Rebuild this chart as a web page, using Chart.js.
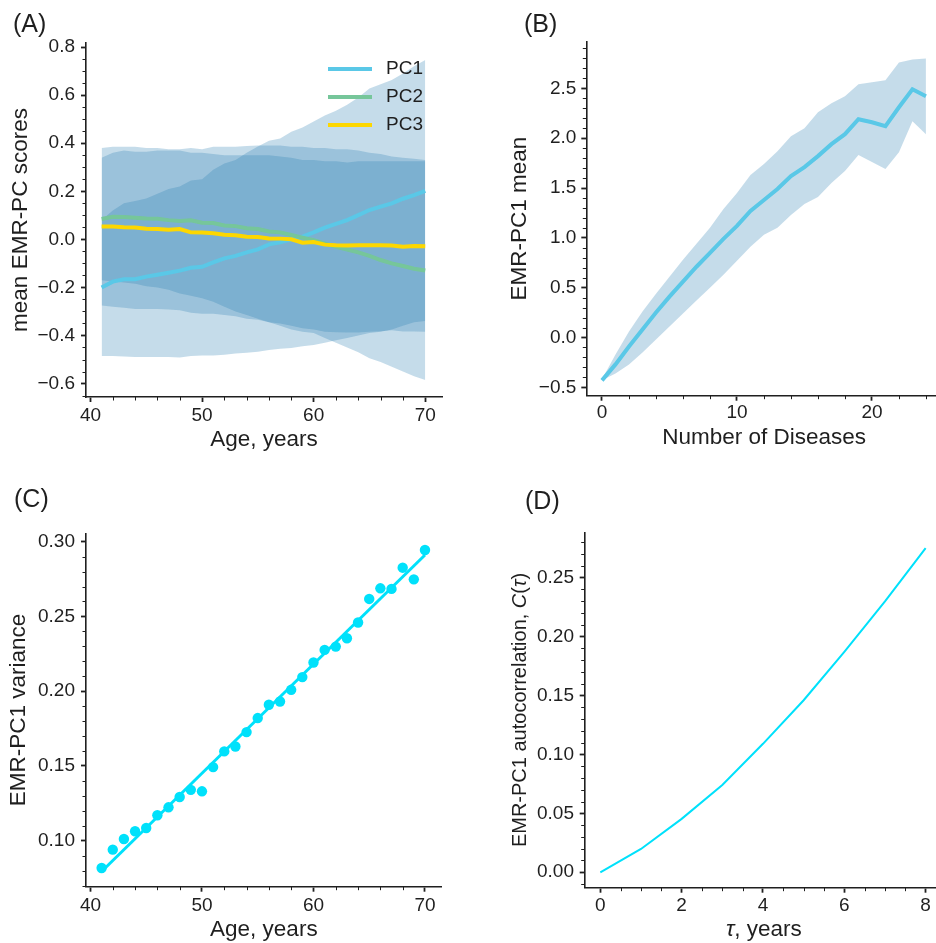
<!DOCTYPE html>
<html>
<head>
<meta charset="utf-8">
<script src="https://cdn.jsdelivr.net/npm/chart.js@4.4.1/dist/chart.umd.min.js"></script>
<style>
  html, body { margin: 0; padding: 0; background: #fff; width: 936px; height: 943px; overflow: hidden; }
  canvas { position: absolute; }
</style>
</head>
<body>
<canvas id="chartA" width="468" height="470" style="left:0;top:0;width:468px;height:470px"></canvas>
<canvas id="chartB" width="480" height="470" style="left:468px;top:0;width:480px;height:470px"></canvas>
<canvas id="chartC" width="468" height="473" style="left:0;top:470px;width:468px;height:473px"></canvas>
<canvas id="chartD" width="480" height="473" style="left:468px;top:470px;width:480px;height:473px"></canvas>
<script>
// ── Data ─────────────────────────────────────────────────────────────────────
// (A) mean EMR-PC scores by age, with bands
const ages = [41, 42, 43, 44, 45, 46, 47, 48, 49, 50, 51, 52, 53, 54, 55,
              56, 57, 58, 59, 60, 61, 62, 63, 64, 65, 66, 67, 68, 69, 70];
const pc1Mean = [-0.200, -0.176, -0.166, -0.166, -0.155, -0.147, -0.139, -0.130, -0.118, -0.114,
                 -0.096, -0.079, -0.069, -0.054, -0.042, -0.021, -0.012, 0.000, 0.011, 0.029,
                 0.049, 0.064, 0.080, 0.101, 0.122, 0.136, 0.150, 0.169, 0.184, 0.202];
const pc2Mean = [0.085, 0.094, 0.093, 0.090, 0.087, 0.086, 0.080, 0.076, 0.079, 0.069,
                 0.068, 0.058, 0.055, 0.046, 0.043, 0.033, 0.029, 0.018, 0.007, -0.003,
                 -0.017, -0.031, -0.042, -0.054, -0.069, -0.086, -0.100, -0.111, -0.122, -0.130];
const pc3Mean = [0.053, 0.053, 0.050, 0.049, 0.044, 0.043, 0.040, 0.043, 0.029, 0.028,
                 0.025, 0.019, 0.017, 0.011, 0.010, 0.004, 0.003, 0.000, -0.014, -0.011,
                 -0.022, -0.025, -0.026, -0.025, -0.025, -0.025, -0.026, -0.031, -0.028, -0.029];
const pc1Upper = [0.08, 0.12, 0.15, 0.16, 0.17, 0.19, 0.21, 0.22, 0.245, 0.25,
                  0.29, 0.316, 0.33, 0.36, 0.386, 0.41, 0.42, 0.448, 0.465, 0.49,
                  0.515, 0.535, 0.56, 0.59, 0.628, 0.645, 0.663, 0.69, 0.72, 0.746];
const pc1Lower = [-0.485, -0.485, -0.487, -0.49, -0.49, -0.49, -0.49, -0.492, -0.485, -0.483,
                  -0.483, -0.48, -0.475, -0.472, -0.468, -0.46, -0.455, -0.452, -0.445, -0.44,
                  -0.43, -0.42, -0.41, -0.40, -0.39, -0.385, -0.375, -0.36, -0.345, -0.34];
const pc2Upper = [0.34, 0.36, 0.37, 0.365, 0.365, 0.37, 0.37, 0.37, 0.36, 0.36,
                  0.355, 0.35, 0.35, 0.35, 0.35, 0.35, 0.345, 0.34, 0.33, 0.33,
                  0.325, 0.325, 0.32, 0.325, 0.325, 0.325, 0.325, 0.325, 0.325, 0.325];
const pc2Lower = [-0.17, -0.175, -0.18, -0.185, -0.195, -0.20, -0.21, -0.225, -0.235, -0.245,
                  -0.26, -0.28, -0.30, -0.315, -0.33, -0.345, -0.36, -0.375, -0.385, -0.39,
                  -0.41, -0.43, -0.45, -0.47, -0.495, -0.51, -0.53, -0.55, -0.57, -0.585];
const pc3Upper = [0.38, 0.385, 0.385, 0.385, 0.38, 0.38, 0.375, 0.375, 0.38, 0.375,
                  0.385, 0.385, 0.385, 0.388, 0.39, 0.39, 0.39, 0.385, 0.385, 0.38,
                  0.38, 0.375, 0.375, 0.37, 0.36, 0.355, 0.345, 0.34, 0.335, 0.33];
const pc3Lower = [-0.275, -0.28, -0.285, -0.29, -0.29, -0.29, -0.292, -0.295, -0.305, -0.31,
                  -0.31, -0.315, -0.32, -0.33, -0.335, -0.345, -0.35, -0.36, -0.37, -0.375,
                  -0.385, -0.387, -0.388, -0.388, -0.385, -0.382, -0.378, -0.383, -0.383, -0.385];

// (B) EMR-PC1 mean by number of diseases
const diseaseCounts = [0, 1, 2, 3, 4, 5, 6, 7, 8, 9, 10, 11, 12, 13, 14, 15, 16, 17, 18, 19, 20, 21, 22, 23, 24];
const diseaseMean = [-0.43, -0.27, -0.09, 0.08, 0.25, 0.41, 0.56, 0.71, 0.85, 0.99, 1.12, 1.27, 1.38,
                     1.49, 1.62, 1.71, 1.82, 1.94, 2.04, 2.19, 2.16, 2.12, 2.31, 2.49, 2.42];
const diseaseUpper = [-0.42, -0.17, 0.06, 0.26, 0.44, 0.61, 0.78, 0.94, 1.10, 1.29, 1.45, 1.63, 1.74,
                      1.87, 2.02, 2.10, 2.26, 2.35, 2.42, 2.54, 2.56, 2.58, 2.76, 2.79, 2.80];
const diseaseLower = [-0.43, -0.36, -0.27, -0.15, -0.02, 0.11, 0.24, 0.37, 0.50, 0.63, 0.77, 0.91, 1.03,
                      1.10, 1.23, 1.34, 1.41, 1.55, 1.67, 1.83, 1.76, 1.69, 1.86, 2.17, 2.04];

// (C) EMR-PC1 variance by age + linear fit
const pc1Variance = [0.0817, 0.094, 0.1011, 0.1063, 0.1085, 0.117, 0.1223, 0.1292, 0.134, 0.133,
                     0.1492, 0.1597, 0.163, 0.1726, 0.182, 0.1909, 0.1931, 0.2009, 0.2094, 0.2192,
                     0.2276, 0.2298, 0.2354, 0.2459, 0.2617, 0.2688, 0.2684, 0.2826, 0.2748, 0.2944];
const fitAges = [41, 70];
const fitVariance = [0.0794, 0.2911];

// (D) autocorrelation by lag
const lags = [0, 1, 2, 3, 4, 5, 6, 7, 8];
const autocorr = [0.0, 0.0198, 0.0453, 0.0741, 0.109, 0.146, 0.187, 0.2298, 0.2750];

// ── Style ────────────────────────────────────────────────────────────────────
const FONT = '"Liberation Sans", Arial, Helvetica, sans-serif';
const INK = '#1f1f1f';
const BAND = 'rgba(40, 125, 177, 0.27)';
const C_PC1 = '#5ac8e7';
const C_PC2 = '#76c69a';
const C_PC3 = '#fdd700';
const CYAN = '#00e1fb';

Chart.defaults.font.family = FONT;
Chart.defaults.color = INK;
Chart.defaults.animation = false;

const pts = (xs, ys) => xs.map((x, i) => ({ x, y: ys[i] }));
const minus = s => s.replace('-', '\u2212');

// ── Plugins ──────────────────────────────────────────────────────────────────
// short outward minor ticks, like matplotlib minor locators
const minorTicks = {
    id: 'minorTicks',
    afterDraw(chart, args, opts) {
        const ctx = chart.ctx;
        ctx.save();
        ctx.strokeStyle = INK;
        ctx.lineWidth = 1;
        ['x', 'y'].forEach(id => {
            const step = opts[id];
            if (!step) return;
            const s = chart.scales[id];
            const majors = s.ticks.map(t => t.value);
            for (let k = Math.ceil(s.min / step - 1e-9); k * step <= s.max + 1e-9; k++) {
                const v = k * step;
                if (majors.some(m => Math.abs(m - v) < step / 10)) continue;
                const p = Math.round(s.getPixelForValue(v)) + 0.5;
                ctx.beginPath();
                if (id === 'x') { ctx.moveTo(p, s.top); ctx.lineTo(p, s.top + 3.5); }
                else { ctx.moveTo(s.right, p); ctx.lineTo(s.right - 3.5, p); }
                ctx.stroke();
            }
        });
        ctx.restore();
    }
};

// legend drawn inside the plot, top right
const insideLegend = {
    id: 'insideLegend',
    afterDatasetsDraw(chart, args, opts) {
        if (!opts.x) return;
        const ctx = chart.ctx;
        ctx.save();
        ctx.font = `${opts.size}px ${FONT}`;
        ctx.textBaseline = 'middle';
        ctx.fillStyle = INK;
        chart.data.datasets.filter(d => d.label).forEach((d, i) => {
            const y = opts.y + i * opts.pitch;
            ctx.strokeStyle = d.borderColor;
            ctx.lineWidth = 4;
            ctx.beginPath();
            ctx.moveTo(opts.x, y);
            ctx.lineTo(opts.x + opts.len, y);
            ctx.stroke();
            ctx.fillText(d.label, opts.x + opts.len + opts.gap, y);
        });
        ctx.restore();
    }
};

const panelLabel = {
    id: 'panelLabel',
    afterDraw(chart, args, opts) {
        if (!opts.text) return;
        const ctx = chart.ctx;
        ctx.save();
        ctx.font = `25px ${FONT}`;
        ctx.fillStyle = INK;
        ctx.textBaseline = 'alphabetic';
        ctx.fillText(opts.text, opts.x, opts.y);
        ctx.restore();
    }
};

// axis titles with italic pieces (panel D)
const richTitles = {
    id: 'richTitles',
    afterDraw(chart, args, opts) {
        if (!opts.titles) return;
        const ctx = chart.ctx, ca = chart.chartArea;
        opts.titles.forEach(t => {
            ctx.save();
            const cx = t.axis === 'x' ? (ca.left + ca.right) / 2 : t.at;
            const cy = t.axis === 'x' ? t.at : (ca.top + ca.bottom) / 2;
            ctx.translate(cx, cy);
            if (t.axis === 'y') ctx.rotate(-Math.PI / 2);
            const fontFor = s => `${s.italic ? 'italic ' : ''}${t.size}px ${FONT}`;
            let total = 0;
            t.segments.forEach(s => { ctx.font = fontFor(s); total += ctx.measureText(s.text).width; });
            let x = -total / 2;
            ctx.textBaseline = 'middle';
            ctx.fillStyle = INK;
            t.segments.forEach(s => {
                ctx.font = fontFor(s);
                ctx.fillText(s.text, x, 0);
                x += ctx.measureText(s.text).width;
            });
            ctx.restore();
        });
    }
};

Chart.register(minorTicks, insideLegend, panelLabel, richTitles);

// ── Axis helper ──────────────────────────────────────────────────────────────
function axis({ horizontal, min, max, step, size, decimals, title, titlePad, padding }) {
    return {
        type: 'linear',
        min, max,
        afterFit: s => { if (horizontal) s.height = size; else s.width = size; },
        border: { display: true, color: INK, width: 1.6 },
        grid: { drawOnChartArea: false, drawTicks: true, tickLength: 5, tickWidth: 1.8, tickColor: INK },
        ticks: {
            stepSize: step,
            includeBounds: false,
            autoSkip: false,
            maxRotation: 0,
            padding,
            color: INK,
            font: { size: 19 },
            callback: v => minus(Number(v).toFixed(decimals))
        },
        title: title ? {
            display: true,
            text: title,
            color: INK,
            font: { size: 22.5 },
            padding: horizontal ? { top: 0, bottom: titlePad } : { top: titlePad, bottom: 0 }
        } : { display: false }
    };
}

const bandSet = (xs, ys, fill) => ({
    data: pts(xs, ys),
    borderWidth: 0,
    borderColor: 'rgba(0,0,0,0)',
    backgroundColor: BAND,
    pointRadius: 0,
    fill,
    order: 5
});

// ── (A) ──────────────────────────────────────────────────────────────────────
new Chart(document.getElementById('chartA'), {
    type: 'line',
    data: {
        datasets: [
            { label: 'PC1', data: pts(ages, pc1Mean), borderColor: C_PC1, borderWidth: 4, pointRadius: 0, fill: false, order: 2 },
            { label: 'PC2', data: pts(ages, pc2Mean), borderColor: C_PC2, borderWidth: 4, pointRadius: 0, fill: false, order: 1 },
            { label: 'PC3', data: pts(ages, pc3Mean), borderColor: C_PC3, borderWidth: 4, pointRadius: 0, fill: false, order: 0 },
            bandSet(ages, pc1Upper, '+1'),
            bandSet(ages, pc1Lower, false),
            bandSet(ages, pc2Upper, '+1'),
            bandSet(ages, pc2Lower, false),
            bandSet(ages, pc3Upper, '+1'),
            bandSet(ages, pc3Lower, false)
        ]
    },
    options: {
        responsive: false,
        layout: { padding: { top: 43, right: 26, bottom: 0, left: 0 } },
        scales: {
            x: axis({ horizontal: true, min: 39.6, max: 71.5, step: 10, size: 73, decimals: 0, title: 'Age, years', titlePad: 16.5, padding: 2 }),
            y: axis({ horizontal: false, min: -0.656, max: 0.817, step: 0.2, size: 86, decimals: 1, title: 'mean EMR-PC scores', titlePad: 7.5, padding: 6 })
        },
        plugins: {
            legend: { display: false },
            tooltip: { enabled: false },
            minorTicks: { x: 2, y: 0.05 },
            insideLegend: { x: 328, y: 69, pitch: 28, len: 44, gap: 14, size: 19 },
            panelLabel: { text: '(A)', x: 13, y: 31.5 }
        }
    }
});

// ── (B) ──────────────────────────────────────────────────────────────────────
new Chart(document.getElementById('chartB'), {
    type: 'line',
    data: {
        datasets: [
            { data: pts(diseaseCounts, diseaseMean), borderColor: C_PC1, borderWidth: 4, pointRadius: 0, fill: false, order: 0 },
            bandSet(diseaseCounts, diseaseUpper, '+1'),
            bandSet(diseaseCounts, diseaseLower, false)
        ]
    },
    options: {
        responsive: false,
        layout: { padding: { top: 41.7, right: 6, bottom: 0, left: 0 } },
        scales: {
            x: axis({ horizontal: true, min: -1.163, max: 25.19, step: 10, size: 74.3, decimals: 0, title: 'Number of Diseases', titlePad: 18.7, padding: 1 }),
            y: axis({ horizontal: false, min: -0.584, max: 2.968, step: 0.5, size: 118.3, decimals: 1, title: 'EMR-PC1 mean', titlePad: 38.2, padding: 5 })
        },
        plugins: {
            legend: { display: false },
            tooltip: { enabled: false },
            minorTicks: { x: 2, y: 0.1 },
            panelLabel: { text: '(B)', x: 56, y: 31.5 }
        }
    }
});

// ── (C) ──────────────────────────────────────────────────────────────────────
new Chart(document.getElementById('chartC'), {
    type: 'line',
    data: {
        datasets: [
            { data: pts(fitAges, fitVariance), borderColor: CYAN, borderWidth: 3, pointRadius: 0, fill: false, order: 0 },
            { data: pts(ages, pc1Variance), showLine: false, pointRadius: 5.2, pointBorderWidth: 0,
              pointBackgroundColor: CYAN, borderColor: CYAN, fill: false, order: 1 }
        ]
    },
    options: {
        responsive: false,
        layout: { padding: { top: 63.3, right: 26.3, bottom: 0, left: 0 } },
        scales: {
            x: axis({ horizontal: true, min: 39.6, max: 71.5, step: 10, size: 56.3, decimals: 0, title: 'Age, years', titlePad: 0, padding: 2.5 }),
            y: axis({ horizontal: false, min: 0.0692, max: 0.3056, step: 0.05, size: 86, decimals: 2, title: 'EMR-PC1 variance', titlePad: 5.2, padding: 6 })
        },
        plugins: {
            legend: { display: false },
            tooltip: { enabled: false },
            minorTicks: { x: 2, y: 0.01 },
            panelLabel: { text: '(C)', x: 14, y: 36.5 }
        }
    }
});

// ── (D) ──────────────────────────────────────────────────────────────────────
new Chart(document.getElementById('chartD'), {
    type: 'line',
    data: {
        datasets: [
            { data: pts(lags, autocorr), borderColor: CYAN, borderWidth: 2, pointRadius: 0, fill: false }
        ]
    },
    options: {
        responsive: false,
        layout: { padding: { top: 62.3, right: 5, bottom: 0, left: 0 } },
        scales: {
            x: axis({ horizontal: true, min: -0.384, max: 8.427, step: 2, size: 55.3, decimals: 0, title: null, padding: 2 }),
            y: axis({ horizontal: false, min: -0.0131, max: 0.2885, step: 0.05, size: 116.7, decimals: 2, title: null, padding: 5.7 })
        },
        plugins: {
            legend: { display: false },
            tooltip: { enabled: false },
            minorTicks: { x: 0.5, y: 0.01 },
            panelLabel: { text: '(D)', x: 57, y: 38.5 },
            richTitles: {
                titles: [
                    { axis: 'x', at: 460, size: 22.5, segments: [{ text: 'τ', italic: true }, { text: ', years' }] },
                    { axis: 'y', at: 52, size: 20, segments: [
                        { text: 'EMR-PC1 autocorrelation, ' }, { text: 'C', italic: true },
                        { text: '(' }, { text: 'τ', italic: true }, { text: ')' }] }
                ]
            }
        }
    }
});
</script>
</body>
</html>
